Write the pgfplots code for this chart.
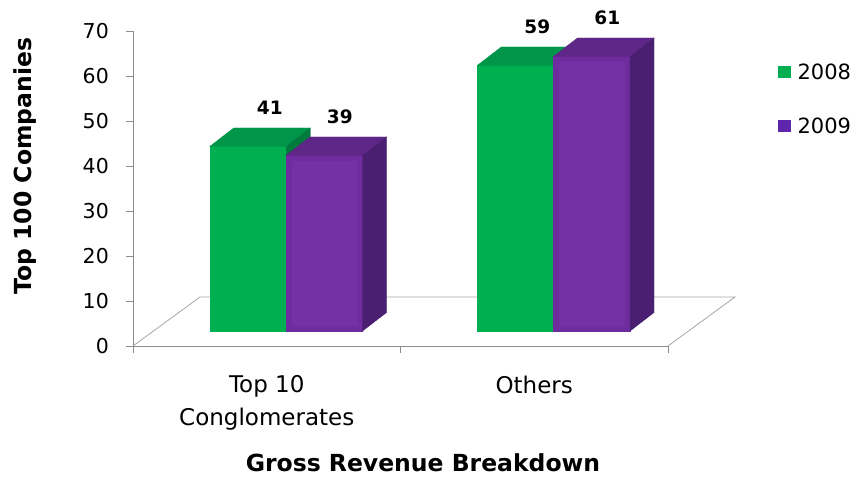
\documentclass[border=0pt]{standalone}
\usepackage{fontspec}
\setmainfont{DejaVu Sans}
\usepackage{pgfplots}
\pgfplotsset{compat=1.18}
\usepackage{pgfplotstable}

\definecolor{grnF}{HTML}{00B050}
\definecolor{grnI}{HTML}{00B050}
\definecolor{grnT}{HTML}{009649}
\definecolor{grnS}{HTML}{007A3D}
\definecolor{purF}{HTML}{6E2C9F}
\definecolor{purI}{HTML}{7431A6}
\definecolor{purT}{HTML}{5E2687}
\definecolor{purS}{HTML}{4A1F72}
\definecolor{axgray}{HTML}{8C8C8C}
\definecolor{floorgray}{HTML}{A6A6A6}

\pgfplotstableread{
cat v
0.5 41
1.5 59
}\yrA
\pgfplotstableread{
cat v
0.5 39
1.5 61
}\yrB

\pgfdeclareplotmark{nothing}{}

% one 3-D box per point: x offset (pt), front, inner, top, side colours
% (nodes near coords first: it sets the scatter hooks itself)
\pgfplotsset{
  box3d/.style n args={5}{%
    nodes near coords,
    nodes near coords align=center,
    scatter, only marks, mark=nothing, forget plot,
    visualization depends on={rawy \as \val},
    scatter/@pre marker code/.code={%
      \pgfmathsetmacro\xl{#1-38.25}%
      \pgfmathsetmacro\xr{#1+38.25}%
      \pgfmathsetmacro\xrd{#1+38.25+24}%
      \pgfmathsetmacro\yb{15-4.5*\val}%
      \pgfmathsetmacro\ybd{33.5-4.5*\val}%
      \fill[#2] (\xl pt,\yb pt) rectangle (\xr pt,15pt);
      \fill[#3] (\xl pt+6pt,\yb pt+6pt) rectangle (\xr pt-6pt,9pt);
      \fill[#4] (\xl pt,15pt) -- (\xl pt+24pt,33.5pt) -- (\xrd pt,33.5pt) -- (\xr pt,15pt) -- cycle;
      \fill[#5] (\xr pt,\yb pt) -- (\xrd pt,\ybd pt) -- (\xrd pt,33.5pt) -- (\xr pt,15pt) -- cycle;
    },
  },
}

\begin{document}
\begin{tikzpicture}
\useasboundingbox (0,0) rectangle (863pt,477pt);
\begin{axis}[
  at={(133pt,131pt)}, anchor=south west,
  x=267.5pt, y=4.5pt,
  xmin=0, xmax=2, ymin=0, ymax=70,
  clip=false,
  axis x line*=bottom, axis y line*=left,
  axis line style={draw=axgray, line width=0.9pt},
  tick align=outside, major tick length=7pt,
  tick style={draw=axgray, line width=0.9pt},
  /pgf/number format/assume math mode=true,
  xtick={0,1,2}, xticklabels={,,},
  extra x ticks={0.5,1.5},
  extra x tick labels={{Top 10\\Conglomerates},{Others}},
  extra x tick style={major tick length=0pt,
    xticklabel style={align=center, font=\fontsize{23}{32.5}\selectfont,
      anchor=north, inner sep=0pt, yshift=-29.5pt}},
  ytick={0,10,...,70},
  yticklabel style={font=\fontsize{20.5}{24}\selectfont, anchor=east,
    inner sep=0pt, xshift=-17pt},
  xlabel={Gross Revenue Breakdown},
  xlabel style={font=\bfseries\fontsize{23.5}{28}\selectfont, inner sep=0pt,
    at={(rel axis cs:0.542,-0.3714)}, anchor=center},
  ylabel={Top 100 Companies},
  ylabel style={font=\bfseries\fontsize{23.5}{28}\selectfont, inner sep=0pt,
    at={(rel axis cs:-0.202,0.571)}, anchor=center},
  every node near coord/.append style={font=\bfseries\fontsize{18.5}{22}\selectfont,
    anchor=center, yshift=54pt},
  legend style={at={(rel axis cs:1.2056,0.784)}, anchor=west,
    draw=none, fill=none, inner sep=0pt, column sep=5pt,
    font=\fontsize{21}{25}\selectfont, row sep=33pt},
  legend cell align=left,
]
% floor of the 3-D plot
\draw[floorgray, line width=0.8pt] (rel axis cs:0,0) -- ++(67pt,49pt)
  -- ++(535pt,0pt) -- (rel axis cs:1,0);

\addplot[box3d={-18.75}{grnF}{grnI}{grnT}{grnS},
  every node near coord/.append style={xshift=3pt}]
  table[x=cat, y=v] {\yrA};
\addplot[box3d={57.5}{purF}{purI}{purT}{purS},
  every node near coord/.append style={xshift=73pt}]
  table[x=cat, y=v] {\yrB};

\addlegendimage{legend image code/.code={\fill[grnF] (0pt,-5.5pt) rectangle (12pt,5.5pt);}}
\addlegendentry{2008}
\addlegendimage{legend image code/.code={\fill[purF!85!blue] (0pt,-5.5pt) rectangle (12pt,5.5pt);}}
\addlegendentry{2009}
\end{axis}
\end{tikzpicture}
\end{document}
